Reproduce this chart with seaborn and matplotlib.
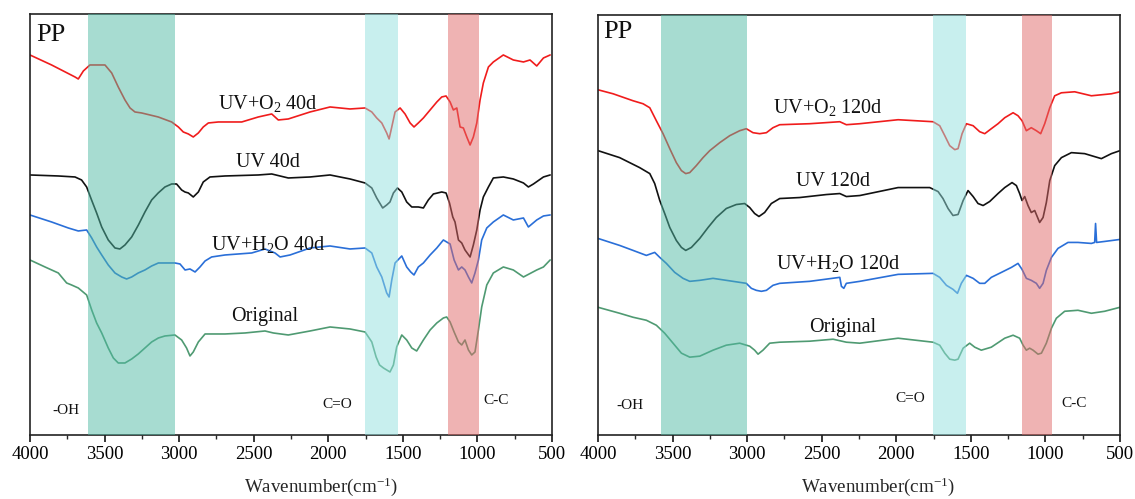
import numpy as np
import pandas as pd
import matplotlib
matplotlib.use("Agg")
import matplotlib.pyplot as plt
import seaborn as sns

# ---------------- data (y = arbitrary transmittance units) ----------------
# ---- Left panel (40 d) ----
wn_o2_40 = [4000, 3855, 3698, 3676, 3642, 3620, 3598, 3497, 3452, 3408, 3363, 3329, 3296, 3251, 3140, 3050,
            3005, 2972, 2938, 2905, 2871, 2838, 2804, 2737, 2580, 2469, 2379, 2335, 2268,
            2122, 1988, 1854, 1753, 1708, 1675, 1641, 1608, 1592, 1574, 1552, 1518, 1485, 1451, 1425,
            1396, 1362, 1317, 1272, 1239, 1210, 1183, 1161, 1138, 1116, 1094, 1071, 1049, 1027, 1004,
            982, 960, 926, 893, 826, 759, 691, 647, 602, 557, 512]
t_o2_40 = [380, 370, 358, 356, 364, 367, 370, 370, 362, 348, 335, 327, 323, 322, 318, 313,
           308, 303, 301, 298, 302, 308, 312, 313, 313, 318, 321, 315, 316,
           323, 328, 326, 327, 323, 317, 312, 302, 296, 308, 323, 327, 321, 312, 308,
           312, 317, 325, 333, 338, 339, 333, 325, 327, 308, 307, 298, 290, 298, 312,
           335, 352, 368, 373, 380, 375, 373, 375, 369, 377, 380]

wn_uv_40 = [4000, 3810, 3698, 3654, 3620, 3587, 3553, 3519, 3475, 3430, 3397, 3363, 3318, 3273, 3229, 3184,
            3140, 3095, 3050, 3017, 2983, 2961, 2938, 2905, 2871, 2838, 2793, 2692, 2469, 2379, 2268,
            2122, 1988, 1854, 1753, 1708, 1675, 1635, 1608, 1586, 1563, 1536, 1507, 1474, 1440, 1396,
            1362, 1329, 1295, 1239, 1210, 1187, 1165, 1150, 1127, 1105, 1083, 1049, 1027, 1004, 982,
            960, 926, 893, 826, 759, 691, 658, 624, 557, 512]
t_uv_40 = [260, 259, 258, 255, 248, 235, 222, 208, 195, 187, 186, 190, 198, 210, 223, 235,
           242, 248, 251, 251, 245, 243, 242, 238, 243, 253, 258, 259, 260, 261, 257,
           258, 260, 256, 252, 247, 237, 227, 230, 233, 242, 247, 243, 233, 228, 228,
           227, 235, 241, 243, 242, 232, 218, 213, 195, 192, 185, 178, 190, 205, 225,
           238, 248, 257, 258, 256, 252, 248, 251, 258, 260]

wn_h2o_40 = [4000, 3855, 3743, 3676, 3620, 3586, 3553, 3519, 3475, 3430, 3385, 3352, 3318, 3274, 3229, 3184,
             3139, 3028, 2994, 2960, 2927, 2893, 2860, 2826, 2782, 2692, 2513, 2424, 2357, 2323,
             2256, 2122, 1988, 1854, 1753, 1708, 1675, 1641, 1608, 1592, 1574, 1552, 1507, 1474, 1447,
             1425, 1396, 1362, 1317, 1272, 1228, 1206, 1183, 1156, 1127, 1105, 1083, 1060, 1038, 1016,
             993, 971, 937, 893, 826, 759, 691, 658, 602, 557, 512]
t_h2o_40 = [220, 213, 207, 204, 205, 197, 188, 180, 170, 162, 158, 156, 158, 162, 165, 169,
            172, 172, 171, 165, 166, 163, 168, 174, 178, 180, 182, 186, 182, 178,
            180, 187, 189, 186, 187, 182, 168, 158, 142, 138, 155, 172, 179, 168, 163,
            160, 168, 172, 180, 187, 195, 193, 191, 175, 165, 168, 165, 158, 152, 162,
            175, 195, 207, 213, 220, 215, 217, 208, 215, 219, 220]

wn_or_40 = [4000, 3899, 3810, 3754, 3721, 3676, 3620, 3586, 3553, 3519, 3475, 3441, 3408, 3363, 3318, 3274,
            3229, 3184, 3139, 3095, 3028, 2983, 2950, 2927, 2905, 2871, 2826, 2692, 2558, 2424, 2368, 2268,
            2122, 1988, 1854, 1753, 1708, 1679, 1656, 1630, 1608, 1586, 1563, 1541, 1507, 1474, 1440,
            1407, 1362, 1317, 1272, 1228, 1206, 1183, 1156, 1127, 1105, 1083, 1060, 1038, 1016, 993,
            971, 937, 893, 826, 759, 691, 602, 557, 512]
t_or_40 = [175, 168, 162, 152, 150, 147, 140, 125, 112, 102, 87, 77, 72, 72, 76, 81,
           87, 93, 97, 99, 100, 95, 87, 79, 83, 93, 101, 101, 102, 104, 102, 100,
           104, 108, 106, 103, 93, 78, 70, 67, 65, 63, 70, 88, 100, 95, 87,
           84, 95, 105, 112, 117, 118, 113, 103, 93, 90, 95, 85, 80, 83, 105,
           128, 150, 162, 168, 165, 158, 165, 168, 175]

# ---- Right panel (120 d) ----
wn_o2_120 = [4000, 3899, 3765, 3698, 3653, 3609, 3564, 3519, 3475, 3441, 3412, 3385, 3341, 3296, 3251, 3184,
             3117, 3050, 3006, 2961, 2916, 2871, 2827, 2782, 2581, 2379, 2335, 2245,
             1988, 1754, 1709, 1675, 1642, 1608, 1586, 1559, 1530, 1485, 1441, 1407, 1363, 1318, 1273,
             1217, 1184, 1157, 1128, 1095, 1061, 1032, 1005, 971, 938, 893, 804, 692, 625, 558, 500]
t_o2_120 = [346, 342, 335, 332, 328, 315, 302, 287, 273, 265, 262, 263, 270, 278, 285, 293,
            300, 305, 307, 303, 302, 303, 308, 311, 312, 314, 311, 312,
            316, 314, 310, 300, 290, 286, 287, 302, 312, 310, 304, 302, 307, 312, 318,
            323, 320, 315, 305, 308, 305, 302, 312, 328, 340, 343, 344, 340, 341, 342, 344]

wn_uv_120 = [4000, 3855, 3721, 3653, 3620, 3586, 3553, 3519, 3475, 3441, 3412, 3374, 3318, 3262, 3207, 3140,
             3073, 3017, 2983, 2950, 2921, 2883, 2838, 2782, 2648, 2469, 2379, 2335, 2245,
             1988, 1776, 1720, 1687, 1653, 1620, 1586, 1552, 1519, 1485, 1452, 1418, 1374, 1318, 1273,
             1224, 1195, 1173, 1157, 1139, 1117, 1095, 1072, 1039, 1016, 994, 971, 938, 893, 826, 737,
             670, 625, 558, 500]
t_uv_120 = [285, 278, 268, 262, 252, 235, 222, 208, 195, 188, 185, 188, 197, 208, 218, 227,
            231, 232, 228, 222, 219, 223, 232, 237, 238, 241, 242, 239, 240,
            248, 248, 244, 237, 227, 220, 221, 235, 245, 239, 232, 230, 234, 242, 248,
            253, 250, 242, 235, 239, 230, 223, 225, 213, 218, 233, 255, 270, 278, 283, 282,
            279, 277, 282, 285]

wn_h2o_120 = [4000, 3855, 3765, 3676, 3620, 3586, 3542, 3486, 3430, 3385, 3318, 3229, 3095, 3006, 2972, 2939,
              2905, 2871, 2827, 2782, 2581, 2379, 2368, 2352, 2335, 2245,
              1988, 1754, 1709, 1664, 1620, 1590, 1564, 1530, 1485, 1441, 1407, 1363, 1295, 1228, 1184,
              1157, 1128, 1095, 1061, 1039, 1016, 994, 960, 916, 849, 782, 692, 670, 664, 657, 603, 500]
t_h2o_120 = [197, 190, 185, 180, 183, 178, 172, 163, 157, 154, 155, 157, 154, 152, 147, 145,
             144, 145, 150, 152, 154, 158, 149, 147, 152, 154,
             161, 162, 158, 150, 146, 142, 152, 160, 157, 152, 152, 158, 163, 168, 172,
             166, 157, 155, 152, 147, 152, 165, 178, 187, 193, 193, 192, 193, 212, 193, 194, 196]

wn_or_120 = [4000, 3855, 3765, 3676, 3609, 3553, 3497, 3441, 3385, 3318, 3229, 3140, 3050, 2983, 2950, 2927,
             2894, 2849, 2782, 2581, 2424, 2335, 2245,
             1988, 1754, 1709, 1675, 1642, 1608, 1586, 1552, 1508, 1474, 1430, 1363, 1273, 1217, 1173,
             1150, 1128, 1106, 1083, 1050, 1027, 994, 960, 927, 871, 782, 692, 603, 500]
t_or_120 = [128, 122, 118, 115, 110, 102, 92, 82, 78, 79, 85, 90, 92, 89, 85, 81,
            85, 92, 93, 94, 96, 93, 92,
            97, 93, 90, 82, 76, 75, 76, 87, 92, 88, 85, 88, 97, 100, 97,
            90, 85, 87, 85, 81, 82, 92, 107, 117, 124, 125, 122, 124, 128]

panel_titles = ["PP", "PP"]
sample_labels_40 = ["UV+O$_2$ 40d", "UV 40d", "UV+H$_2$O 40d", "Original"]
sample_labels_120 = ["UV+O$_2$ 120d", "UV 120d", "UV+H$_2$O 120d", "Original"]
band_labels = ["-OH", "C=O", "C-C"]
xticks = [4000, 3500, 3000, 2500, 2000, 1500, 1000, 500]

# bands (wavenumber ranges) per panel
bands_left = [(3609, 3030), (1753, 1532), (1194, 989)]
bands_right = [(3580, 2999), (1754, 1536), (1158, 956)]

# ---------------- build tables ----------------
def make_df(series):
    rows = []
    for name, wn, t in series:
        for w, v in zip(wn, t):
            rows.append({"sample": name, "wavenumber": w, "T": v})
    return pd.DataFrame(rows)

df_left = make_df([("o2", wn_o2_40, t_o2_40), ("uv", wn_uv_40, t_uv_40),
                   ("h2o", wn_h2o_40, t_h2o_40), ("orig", wn_or_40, t_or_40)])
df_right = make_df([("o2", wn_o2_120, t_o2_120), ("uv", wn_uv_120, t_uv_120),
                    ("h2o", wn_h2o_120, t_h2o_120), ("orig", wn_or_120, t_or_120)])

palette = {"o2": "#f01c1c", "uv": "#111111", "h2o": "#2a6fd8", "orig": "#4f9a72"}
band_colors = [("#51bba5", 0.5), ("#93e1df", 0.5), ("#e16969", 0.5)]

# ---------------- style ----------------
sns.set_theme(style="white")
plt.rcParams["font.family"] = ["Liberation Serif", "DejaVu Serif"]
plt.rcParams["mathtext.fontset"] = "custom"
plt.rcParams["mathtext.rm"] = "Liberation Serif"
plt.rcParams["mathtext.it"] = "Liberation Serif:italic"

fig = plt.figure(figsize=(11.35, 4.99), dpi=100)
ax1 = fig.add_axes([0.0264, 0.1283, 0.4599, 0.8437])
ax2 = fig.add_axes([0.5269, 0.1283, 0.4599, 0.8417])

label_pos_left = [(2404, 331), (2404, 272), (2404, 190), (2424, 118)]
label_pos_right = [(2458, 328), (2424, 254), (2391, 172), (2357, 108)]
band_pos_left = [(3759, 24), (1941, 30), (875, 34)]
band_pos_right = [(3785, 30), (1908, 37), (808, 32)]
title_pos = [(3955, 400), (3966, 404)]
xlabel_x = [0.558, 0.536]

for i, (ax, df, bands, labels, lpos, bpos) in enumerate([
        (ax1, df_left, bands_left, sample_labels_40, label_pos_left, band_pos_left),
        (ax2, df_right, bands_right, sample_labels_120, label_pos_right, band_pos_right)]):
    sns.lineplot(data=df, x="wavenumber", y="T", hue="sample", palette=palette,
                 estimator=None, sort=False, legend=False, linewidth=1.2, ax=ax)
    for (a, b), (c, al) in zip(bands, band_colors):
        ax.axvspan(b, a, color=c, alpha=al, lw=0, zorder=3)
    ax.set_xlim(4000, 500)
    ax.set_ylim(0, 421)
    ax.set_xticks(xticks)
    ax.set_xticks(np.arange(3750, 500, -500), minor=True)
    ax.set_yticks([])
    ax.set_xlabel("Wavenumber(cm$^{-1}$)", fontsize=13.7)
    ax.xaxis.label.set_va("center")
    ax.xaxis.set_label_coords(xlabel_x[i], -0.1235)
    ax.set_ylabel("")
    ax.tick_params(axis="x", which="major", direction="out", length=5, width=1.1,
                   labelsize=13.5, bottom=True, pad=3, colors="black")
    ax.tick_params(axis="x", which="minor", direction="out", length=3, width=1.0, bottom=True)
    for s in ax.spines.values():
        s.set_color("#222222")
        s.set_linewidth(1.2)
    for lab, (x, y) in zip(labels, lpos):
        ax.text(x, y, lab, ha="center", va="center", fontsize=14.5, color="#111111", zorder=5)
    for lab, (x, y) in zip(band_labels, bpos):
        ax.text(x, y, lab, ha="center", va="center", fontsize=11, color="#111111", zorder=5)
    tx, ty = title_pos[i]
    ax.text(tx, ty, panel_titles[i], ha="left", va="center", fontsize=19, color="#111111", zorder=5)

fig.savefig("out.png", dpi=100)
